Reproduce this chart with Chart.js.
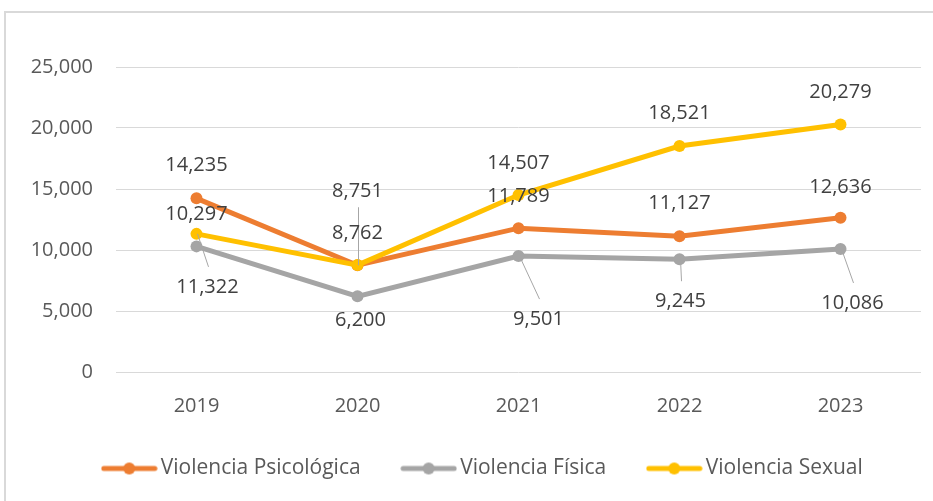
<!DOCTYPE html>
<html>
<head>
<meta charset="utf-8">
<script src="https://cdn.jsdelivr.net/npm/chart.js@4"></script>
<style>
  body { margin: 0; background: #fff; }
  canvas { display: block; }
</style>
</head>
<body>
<canvas id="chart" width="933" height="501"></canvas>
<script>
// datos por año
const years = ['2019', '2020', '2021', '2022', '2023'];
const psicologica = [14235, 8751, 11789, 11127, 12636];
const fisica = [10297, 6200, 9501, 9245, 10086];
const sexual = [11322, 8762, 14507, 18521, 20279];
const yTicks = [0, 5000, 10000, 15000, 20000, 25000];

// colocación de las etiquetas (dx, dy respecto al punto) y si llevan línea guía
const posPsico = [[0, -33], [0, -74], [0, -32], [0, -33], [0, -31]];
const guiaPsico = [false, true, false, false, false];
const posFisica = [[0, -32], [3, 24], [20, 63], [1, 42], [12, 54]];
const guiaFisica = [false, false, true, true, true];
const posSexual = [[11, 53], [0, -32], [0, -32], [0, -33], [0, -32]];
const guiaSexual = [true, false, false, false, false];

const FONT = 'Open Sans';
const colors = ['#ED7D31', '#A5A5A5', '#FFC000'];

// marcador de leyenda: línea con círculo
function legendMarker(color) {
    const c = document.createElement('canvas');
    c.width = 57;
    c.height = 14;
    const g = c.getContext('2d');
    g.strokeStyle = color;
    g.lineWidth = 5;
    g.lineCap = 'round';
    g.beginPath();
    g.moveTo(3, 7);
    g.lineTo(54, 7);
    g.stroke();
    g.fillStyle = color;
    g.beginPath();
    g.arc(28.5, 7, 6, 0, Math.PI * 2);
    g.fill();
    return c;
}

const frame = {
    id: 'frame',
    beforeDraw(chart) {
        const c = chart.ctx;
        c.save();
        c.strokeStyle = '#d9d9d9';
        c.lineWidth = 2;
        c.strokeRect(5, 12, 2000, 2000);
        c.restore();
    },
    // mover la leyenda un poco, como en el original
    afterLayout(chart) {
        const lg = chart.legend;
        lg.left += 15;
        lg.right += 15;
        lg.top -= 6;
        lg.bottom -= 6;
    }
};

const labels = {
    id: 'labels',
    afterDatasetsDraw(chart) {
        const c = chart.ctx;
        const pos = [posPsico, posFisica, posSexual];
        const guia = [guiaPsico, guiaFisica, guiaSexual];
        c.save();
        c.font = '20px "' + FONT + '"';
        c.textAlign = 'center';
        c.textBaseline = 'middle';
        chart.data.datasets.forEach((ds, d) => {
            const meta = chart.getDatasetMeta(d);
            meta.data.forEach((pt, i) => {
                const lx = pt.x + pos[d][i][0];
                const ly = pt.y + pos[d][i][1];
                if (guia[d][i]) {
                    c.strokeStyle = '#a6a6a6';
                    c.lineWidth = 1;
                    c.beginPath();
                    c.moveTo(Math.round(pt.x) + 0.5, pt.y);
                    const endY = ly > pt.y ? ly - 20 : ly + 16;
                    c.lineTo(Math.round(lx) + 0.5, endY);
                    c.stroke();
                }
                c.fillStyle = '#404040';
                c.fillText(ds.data[i].toLocaleString('en-US'), lx, ly);
            });
        });
        c.restore();
    }
};

function serie(label, data, color, order) {
    return {
        label: label,
        data: data,
        borderColor: color,
        backgroundColor: color,
        borderWidth: 5,
        pointStyle: 'circle',
        pointRadius: 6,
        pointHoverRadius: 6,
        pointBorderWidth: 0,
        tension: 0,
        order: order
    };
}

new Chart(document.getElementById('chart'), {
    type: 'line',
    data: {
        labels: years,
        datasets: [
            serie('Violencia Psicológica', psicologica, colors[0], 2),
            serie('Violencia Física', fisica, colors[1], 1),
            serie('Violencia Sexual', sexual, colors[2], 0)
        ]
    },
    options: {
        responsive: false,
        devicePixelRatio: 1,
        animation: false,
        layout: { padding: { left: 20, right: 12, top: 67, bottom: 14 } },
        plugins: {
            tooltip: { enabled: false },
            legend: {
                position: 'bottom',
                maxHeight: 70,
                labels: {
                    usePointStyle: true,
                    pointStyleWidth: 42,
                    padding: 47,
                    color: '#595959',
                    font: { family: FONT, size: 21 },
                    sort: (a, b) => a.datasetIndex - b.datasetIndex,
                    generateLabels: (chart) => chart.data.datasets.map((ds, i) => ({
                        text: ds.label,
                        pointStyle: legendMarker(ds.borderColor),
                        fillStyle: ds.borderColor,
                        strokeStyle: ds.borderColor,
                        fontColor: '#595959',
                        lineWidth: 0,
                        datasetIndex: i
                    }))
                }
            }
        },
        scales: {
            x: {
                offset: true,
                grid: { display: false },
                border: { display: false },
                ticks: { color: '#595959', font: { family: FONT, size: 20 }, padding: 14 },
                afterFit: (s) => { s.height = 45; }
            },
            y: {
                min: 0,
                max: 25000,
                afterBuildTicks: (s) => { s.ticks = yTicks.map(v => ({ value: v })); },
                grid: { color: '#d9d9d9', lineWidth: 1, drawTicks: false },
                border: { display: false },
                ticks: {
                    color: '#595959',
                    font: { family: FONT, size: 20 },
                    padding: 23,
                    callback: (v) => v.toLocaleString('en-US')
                },
                afterFit: (s) => { s.width = 96; }
            }
        }
    },
    plugins: [frame, labels]
});
</script>
</body>
</html>
